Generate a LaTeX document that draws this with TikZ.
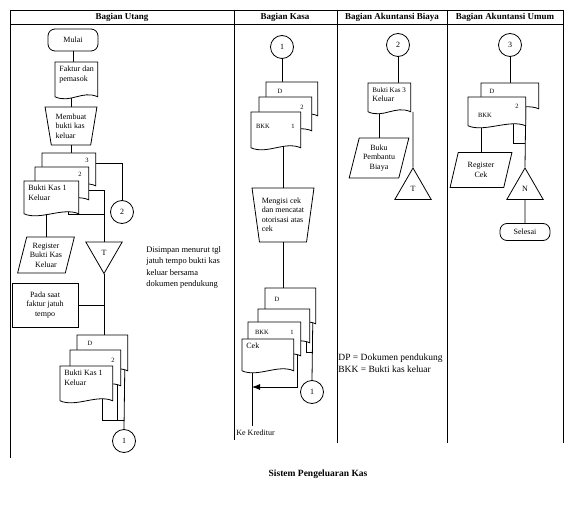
\documentclass[tikz,border=0pt]{standalone}
\usepackage{fontspec}
\setmainfont{Liberation Serif}
\usetikzlibrary{shapes.geometric,calc,arrows.meta}

\tikzset{
	txt/.style={font=\fontsize{8}{9.5}\selectfont, align=left, inner sep=2pt},
	head/.style={font=\bfseries\fontsize{9}{10}\selectfont},
	lbl/.style={font=\fontsize{6.5}{7}\selectfont, inner sep=0pt},
	term/.style={draw, fill=white, rounded corners=7pt, minimum width=50pt, minimum height=22pt, inner sep=1pt, font=\fontsize{8}{9.5}\selectfont},
	conn/.style={draw, fill=white, circle, minimum size=23pt, inner sep=0pt, font=\fontsize{8}{9}\selectfont},
	docbox/.style 2 args={minimum width=#1, minimum height=#2, inner sep=0pt, anchor=north west},
	manop/.style={draw, fill=white, trapezium, shape border rotate=180, trapezium angle=79, trapezium stretches=true, inner sep=1pt, align=left, font=\fontsize{8}{9.5}\selectfont},
	datain/.style={draw, fill=white, trapezium, trapezium left angle=73, trapezium right angle=107, trapezium stretches=true, inner sep=1pt, align=center, font=\fontsize{8}{9.5}\selectfont},
	filebox/.style={draw, fill=white, regular polygon, regular polygon sides=3, minimum size=42pt, inner sep=0pt, font=\fontsize{8}{9}\selectfont},
	proc/.style={draw, fill=white, minimum width=66pt, minimum height=44pt, inner sep=1pt, align=center, font=\fontsize{8}{9.5}\selectfont},
}

\newcommand{\docshape}[2]{%
	\draw[fill=white] (#1.north west) -- (#1.north east) -- (#1.south east) .. controls +(-16,-7) and +(16,7) .. (#1.south west) -- cycle;
	\node[txt, anchor=north west] (#1t) at ($(#1.north west)+(2,2)$) {#2};}

\begin{document}
\begin{tikzpicture}[x=1pt,y=1pt,yscale=-1,xscale=1,line width=0.8pt]
	\useasboundingbox (0,0) rectangle (581,524);
	\draw (10,10) -- (563,10) (10,24) -- (563,24) (10,10) -- (10,458);
	\foreach \x/\y in {234/440,337/443,447/443,563/443}
		\draw (\x,10) -- (\x,\y);
	\node[head] (hU) at (122,17) {Bagian Utang};
	\node[head] (hK) at (285,17) {Bagian Kasa};
	\node[head] (hB) at (392,17) {Bagian Akuntansi Biaya};
	\node[head] (hA) at (505,17) {Bagian Akuntansi Umum};
	\node[font=\bfseries\fontsize{9.5}{11}\selectfont] (title) at (318,474) {Sistem Pengeluaran Kas};

	% Bagian Utang
	\node[term] (mulai) at (73,40) {Mulai};
	\node[docbox={42pt}{34pt}] (fk) at (55,62) {};
	\node[manop, minimum width=52pt, minimum height=38pt] (mbk) at (71,126) {Membuat\\bukti kas\\keluar};
	\node[docbox={53pt}{32pt}] (bk3) at (42,153) {};
	\node[docbox={53pt}{32pt}] (bk2) at (35,167) {};
	\node[docbox={54pt}{32pt}] (bk1) at (24,181) {};
	\node[conn] (c2U) at (122,212) {2};
	\node[filebox, shape border rotate=180] (tU) at (104,252.5) {T};
	\node[datain, minimum width=57pt, minimum height=36pt] (regU) at (46,255) {Register\\Bukti Kas\\Keluar};
	\node[proc] (pada) at (45,305) {Pada saat\\faktur jatuh\\tempo};
	\node[txt, anchor=north west, font=\fontsize{8.5}{11.5}\selectfont] (simpan) at (144,244) {Disimpan menurut tgl\\jatuh tempo bukti kas\\keluar bersama\\dokumen pendukung};
	\node[docbox={50pt}{35pt}] (dU) at (77,335) {};
	\node[docbox={50pt}{35pt}] (b2U) at (70,350) {};
	\node[docbox={52pt}{34pt}] (b1U) at (60,366) {};
	\node[conn] (c1U) at (124,441) {1};

	% Bagian Kasa
	\node[conn] (c1K) at (282,47) {1};
	\node[docbox={51pt}{33pt}] (dK) at (266,82) {};
	\node[docbox={52pt}{33pt}] (b2K) at (259,97) {};
	\node[docbox={49pt}{35pt}] (b1K) at (251,112) {};
	\node[manop, minimum width=62pt, minimum height=54pt] (mcK) at (283,215) {Mengisi cek\\dan mencatat\\otorisasi atas\\cek};
	\node[docbox={50pt}{35pt}] (dK2) at (265,288) {};
	\node[docbox={51pt}{33pt}] (xK) at (258,309) {};
	\node[docbox={52pt}{33pt}] (bkK) at (248,322) {};
	\node[docbox={51pt}{31pt}] (cek) at (242,339) {};
	\node[conn] (c1Ko) at (312,392) {1};
	\coordinate (kred) at (252,426);
	\node[txt, anchor=west] (kredT) at (234,433) {Ke Kreditur};

	% Bagian Akuntansi Biaya
	\node[conn] (c2B) at (398,45) {2};
	\node[docbox={42pt}{28pt}] (bkB) at (368,83) {};
	\node[datain, minimum width=60pt, minimum height=40pt] (bpB) at (379,158) {Buku\\Pembantu\\Biaya};
	\coordinate (bkBe) at (413,112);
	\node[filebox] (tB) at (413,189) {T};
	\node[txt, anchor=north west, font=\fontsize{9.5}{12}\selectfont] (legend) at (336,352) {DP = Dokumen pendukung\\BKK = Bukti kas keluar};

	% Bagian Akuntansi Umum
	\node[conn] (c3) at (510,45) {3};
	\node[docbox={57pt}{25pt}] (dA) at (481,83) {};
	\node[docbox={57pt}{28pt}] (bkA) at (468,97) {};
	\node[datain, minimum width=62pt, minimum height=35pt] (rcA) at (481,170) {Register\\Cek};
	\node[filebox] (tN) at (525,189) {N};
	\node[term, minimum height=17pt] (selesai) at (525,232) {Selesai};

	% garis
	\draw (mulai.south) -- (mulai.south |- fk.north);
	\draw (fk.center -| mbk.north) -- (mbk.north);
	\draw (mbk.south) -- (mbk.south |- bk3.north);
	\draw ($(bk3.north east)+(-3,10)$) -| (c2U.north);
	\draw ($(bk2.east)+(-3,7)$) -| (tU.north);
	\draw ($(bk1.south east)+(-10,-5)$) |- ($(tU.north)+(0,-27)$);
	\draw (bk1.center -| regU.north) -- (regU.north);
	\draw (tU.south) -- (tU.south |- dU.north);
	\draw (pada.east) -- (pada.east -| tU.south);
	\draw ($(b1U.south east)+(-10,-5)$) |- ($(c1U.north)+(0,-9)$);
	\draw ($(b2U.south east)+(-3,-5)$) |- ($(c1U.north)+(0,-9)$);
	\draw ($(dU.south east)+(-3,-5)$) -- (c1U.north);

	\draw (c1K.south) -- (c1K.south |- dK.north);
	\draw (b1K.center -| mcK.north) -- (mcK.north);
	\draw (mcK.south) -- (mcK.south |- dK2.north);
	\draw ($(cek.south west)+(10,-5)$) -- (kred);
	\draw[-{Latex[length=8pt,width=6pt]}] ($(bkK.south east)+(-3,-5)$) |- ($(kred)+(0,-39)$);
	\draw ($(dK2.south east)+(-3,-5)$) -- (c1Ko.north);
	\draw ($(xK.south east)+(-3,-5)$) |- ($(c1Ko.north)+(0,-28)$);

	\draw (c2B.south) -- (c2B.south |- bkB.north);
	\draw (bkB.center -| bpB.north) -- (bpB.north);
	\draw (bkBe) -- (tB.north);

	\draw (c3.south) -- (c3.south |- dA.north);
	\draw (bkA.center -| rcA.north) -- (rcA.north);
	\draw ($(dA.south east)+(-13,-5)$) -- (tN.north);
	\draw ($(bkA.south east)+(-12,-5)$) |- ($(tN.north)+(0,-24)$);
	\draw (tN.south) -- (selesai.north);

	% dokumen
	\docshape{fk}{Faktur dan\\pemasok}
	\docshape{bk3}{}
	\node[lbl] (bk3n) at (87,160) {3};
	\docshape{bk2}{}
	\node[lbl] (bk2n) at (80,174) {2};
	\docshape{bk1}{Bukti Kas 1\\Keluar}
	\docshape{dU}{}
	\node[lbl] (dUn) at (90,343) {D};
	\docshape{b2U}{}
	\node[lbl] (b2Un) at (113,360) {2};
	\docshape{b1U}{Bukti Kas 1\\Keluar}

	\docshape{dK}{}
	\node[lbl] (dKn) at (280,91) {D};
	\docshape{b2K}{}
	\node[lbl] (b2Kn) at (302,107) {2};
	\docshape{b1K}{}
	\node[lbl] (b1Kn) at (263,126) {BKK};
	\node[lbl] (b1Km) at (293,126) {1};
	\docshape{dK2}{}
	\node[lbl] (dK2n) at (277,299) {D};
	\docshape{xK}{}
	\docshape{bkK}{}
	\node[lbl] (bkKn) at (262,332) {BKK};
	\node[lbl] (bkKm) at (292,332) {1};
	\docshape{cek}{Cek}

	\docshape{bkB}{\fontsize{7}{8.5}\selectfont Bukti Kas 3\\Keluar}

	\docshape{dA}{}
	\node[lbl] (dAn) at (492,91) {D};
	\docshape{bkA}{}
	\node[lbl] (bkAn) at (517,106) {2};
	\node[lbl] (bkAm) at (485,115) {BKK};
\end{tikzpicture}
\end{document}
